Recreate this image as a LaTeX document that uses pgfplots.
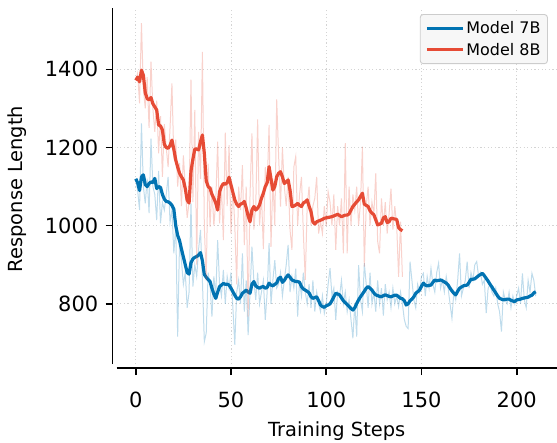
\documentclass[border=0pt]{standalone}
\usepackage{fontspec}
\setmainfont{DejaVu Sans}
\usepackage{pgfplots}
\usepackage{pgfplotstable}
\pgfplotsset{compat=1.18}

\definecolor{c7b}{HTML}{0173B2}
\definecolor{c8b}{HTML}{E64B35}
\definecolor{gridc}{HTML}{D4D4D4}

% raw per-step response lengths
\pgfplotstableread{
x y
0 1120
1 1090
2 1040
3 1262
4 1100
5 1057
6 1120
7 1032
8 1223
9 1100
10 1080
11 1014
12 1140
13 1006
14 1060
15 1040
16 1080
17 1125
18 1010
19 1040
20 929
21 1000
22 716
23 960
24 910
25 850
26 880
27 790
28 830
29 1057
30 844
31 900
32 870
33 940
34 989
35 860
36 703
37 725
38 880
39 850
40 767
41 870
42 820
43 963
44 850
45 820
46 887
47 800
48 870
49 840
50 880
51 790
52 695
53 830
54 860
55 800
56 929
57 780
58 860
59 720
60 830
61 946
62 860
63 810
64 880
65 800
66 830
67 860
68 759
69 830
70 955
71 800
72 860
73 912
74 840
75 850
76 880
77 820
78 860
79 900
80 951
81 830
82 870
83 840
84 890
85 767
86 860
87 820
88 880
89 830
90 800
91 850
92 790
93 860
94 780
95 830
96 800
97 780
98 820
99 776
100 800
101 850
102 891
103 820
104 840
105 759
106 830
107 820
108 860
109 800
110 830
111 780
112 810
113 760
114 712
115 800
116 716
117 899
118 810
119 780
120 904
121 850
122 790
123 880
124 800
125 830
126 780
127 860
128 800
129 840
130 770
131 850
132 810
133 830
134 790
135 840
136 800
137 820
138 793
139 830
140 800
141 760
142 742
143 737
144 908
145 860
146 810
147 790
148 850
149 830
150 870
151 878
152 820
153 870
154 840
155 891
156 850
157 830
158 880
159 904
160 840
161 860
162 830
163 870
164 840
165 800
166 763
167 830
168 810
169 860
170 929
171 820
172 840
173 860
174 908
175 840
176 880
177 860
178 900
179 908
180 870
181 880
182 850
183 860
184 776
185 840
186 850
187 830
188 820
189 840
190 800
191 780
192 729
193 830
194 810
195 800
196 830
197 790
198 820
199 800
200 820
201 840
202 800
203 878
204 810
205 790
206 860
207 830
208 878
209 860
210 820
}\rawA

\pgfplotstableread{
x y
0 1372
1 1390
2 1313
3 1518
4 1350
5 1300
6 1380
7 1250
8 1420
9 1300
10 1240
11 1320
12 1185
13 1280
14 1125
15 1260
16 1200
17 1150
18 1250
19 1364
20 1170
21 1220
22 1100
23 1160
24 1050
25 1180
26 1100
27 1020
28 1060
29 1374
30 1060
31 1296
32 900
33 1240
34 1120
35 1445
36 1000
37 860
38 1159
39 997
40 1100
41 1000
42 1060
43 1215
44 1006
45 1100
46 963
47 1238
48 1050
49 1206
50 980
51 1100
52 1000
53 850
54 1100
55 1040
56 1155
57 950
58 1100
59 767
60 1080
61 1236
62 990
63 1050
64 1272
65 1000
66 1080
67 940
68 1150
69 1100
70 1258
71 946
72 1120
73 1000
74 1323
75 1180
76 1049
77 1200
78 1100
79 1050
80 1125
81 989
82 938
83 1150
84 1177
85 1000
86 1080
87 1125
88 980
89 861
90 1050
91 1100
92 1000
93 1050
94 1070
95 1125
96 980
97 1010
98 980
99 1050
100 1000
101 1087
102 1060
103 1000
104 1080
105 938
106 1050
107 1000
108 1070
109 929
110 1211
111 929
112 1100
113 1000
114 1080
115 1040
116 1100
117 1000
118 1060
119 1202
120 895
121 1050
122 1100
123 1000
124 1060
125 1030
126 1134
127 960
128 929
129 1070
130 1000
131 1060
132 980
133 1030
134 1095
135 990
136 1050
137 1000
138 869
139 1010
140 869
}\rawB

% smoothed curves
\pgfplotstableread{
x y
0 1120
1 1110
2 1090
3 1125
4 1130
5 1105
6 1100
7 1108
8 1112
9 1110
10 1121
11 1095
12 1100
13 1098
14 1080
15 1068
16 1062
17 1061
18 1058
19 1052
20 1042
21 1000
22 975
23 962
24 940
25 920
26 900
27 880
28 876
29 905
30 915
31 919
32 921
33 925
34 931
35 910
36 875
37 868
38 862
39 857
40 840
41 825
42 814
43 830
44 844
45 848
46 852
47 850
48 850
49 848
50 840
51 831
52 822
53 814
54 812
55 818
56 827
57 831
58 835
59 830
60 827
61 850
62 857
63 846
64 842
65 840
66 843
67 844
68 840
69 842
70 853
71 848
72 846
73 850
74 853
75 865
76 868
77 855
78 860
79 868
80 874
81 868
82 861
83 859
84 857
85 857
86 855
87 844
88 838
89 835
90 832
91 828
92 818
93 814
94 816
95 818
96 808
97 797
98 793
99 791
100 795
101 797
102 800
103 808
104 818
105 827
106 825
107 823
108 815
109 808
110 803
111 798
112 793
113 788
114 784
115 790
116 801
117 810
118 818
119 825
120 832
121 840
122 844
123 840
124 835
125 828
126 823
127 821
128 819
129 818
130 821
131 823
132 821
133 819
134 818
135 820
136 822
137 822
138 818
139 814
140 813
141 808
142 797
143 800
144 808
145 812
146 818
147 827
148 831
149 835
150 845
151 853
152 848
153 846
154 847
155 848
156 855
157 861
158 859
159 860
160 861
161 859
162 856
163 853
164 848
165 840
166 833
167 827
168 823
169 832
170 840
171 843
172 846
173 847
174 848
175 855
176 863
177 863
178 864
179 868
180 872
181 875
182 878
183 872
184 865
185 858
186 850
187 843
188 835
189 828
190 820
191 814
192 812
193 810
194 811
195 812
196 812
197 809
198 807
199 806
200 810
201 811
202 812
203 814
204 815
205 816
206 817
207 820
208 822
209 828
210 831
}\smoothA

\pgfplotstableread{
x y
0 1372
1 1380
2 1368
3 1398
4 1385
5 1340
6 1325
7 1322
8 1328
9 1312
10 1304
11 1296
12 1258
13 1255
14 1245
15 1208
16 1200
17 1198
18 1205
19 1219
20 1195
21 1168
22 1150
23 1134
24 1125
25 1117
26 1095
27 1065
28 1058
29 1140
30 1170
31 1196
32 1196
33 1194
34 1215
35 1232
36 1185
37 1115
38 1100
39 1096
40 1080
41 1070
42 1058
43 1040
44 1087
45 1100
46 1108
47 1106
48 1110
49 1124
50 1104
51 1085
52 1066
53 1055
54 1049
55 1055
56 1057
57 1062
58 1045
59 1025
60 1010
61 1040
62 1049
63 1040
64 1045
65 1053
66 1070
67 1083
68 1100
69 1110
70 1151
71 1120
72 1091
73 1100
74 1125
75 1134
76 1138
77 1125
78 1108
79 1112
80 1117
81 1091
82 1049
83 1050
84 1053
85 1057
86 1052
87 1049
88 1058
89 1061
90 1066
91 1050
92 1036
93 1010
94 1004
95 1010
96 1012
97 1014
98 1016
99 1019
100 1020
101 1021
102 1022
103 1023
104 1025
105 1027
106 1029
107 1026
108 1023
109 1025
110 1027
111 1027
112 1030
113 1040
114 1049
115 1055
116 1061
117 1066
118 1075
119 1083
120 1055
121 1052
122 1049
123 1038
124 1032
125 1028
126 1015
127 1002
128 1004
129 1006
130 1020
131 1023
132 1008
133 1010
134 1019
135 1018
136 1017
137 1016
138 995
139 990
140 987
}\smoothB

\begin{document}
\begin{tikzpicture}
\begin{axis}[
  name=ax,
  scale only axis,
  width=440bp, height=356bp,
  xmin=-10, xmax=221,
  ymin=646, ymax=1557,
  axis x line*=bottom,
  axis y line*=left,
  x axis line style={-, line width=1.6bp, yshift=-4bp},
  y axis line style={-, line width=1.6bp, xshift=-4bp},
  xtick={0,50,100,150,200},
  ytick={800,1000,1200,1400},
  tick align=outside,
  major tick length=7bp,
  xtick style={line width=1.6bp, black, yshift=-4bp},
  ytick style={line width=1.6bp, black, xshift=-4bp},
  xticklabel style={yshift=-17bp},
  yticklabel style={xshift=-8bp},
  /pgf/number format/assume math mode=true,
  /pgf/number format/1000 sep={},
  tick label style={font=\fontsize{21}{24}\selectfont},
  xlabel={Training Steps},
  ylabel={Response Length},
  every axis x label/.style={at={(axis description cs:0.5,0)}, anchor=base,
    yshift=-72bp, font=\fontsize{19.5}{23}\selectfont},
  every axis y label/.style={at={(axis description cs:0,0.5)}, anchor=center,
    xshift=-100bp, yshift=-3bp, rotate=90, font=\fontsize{19.5}{23}\selectfont},
  grid=major,
  grid style={gridc, line width=0.9bp, dash pattern=on 1.2bp off 2.4bp},
  legend style={at={(0.98,0.983)}, anchor=north east,
    fill=black!3, draw=black!20, line width=0.9bp, rounded corners=3bp,
    font=\fontsize{16}{19}\selectfont, inner xsep=5bp, inner ysep=5bp,
    row sep=4bp},
  legend cell align=left,
  legend image code/.code={\draw[#1, line width=3.2bp] (0bp,0bp) -- (36bp,0bp);},
]
\addplot[c7b, opacity=0.25, line width=1bp, forget plot] table {\rawA};
\addplot[c7b, line width=3.2bp, line join=round] table {\smoothA};
\addplot[c8b, opacity=0.25, line width=1bp, forget plot] table {\rawB};
\addplot[c8b, line width=3.2bp, line join=round] table {\smoothB};
\legend{Model 7B, Model 8B}
\end{axis}
\pgfresetboundingbox
\path ([xshift=-116.7bp,yshift=-79bp]ax.south west) rectangle ([xshift=0.3bp,yshift=8bp]ax.north east);
\end{tikzpicture}
\end{document}
